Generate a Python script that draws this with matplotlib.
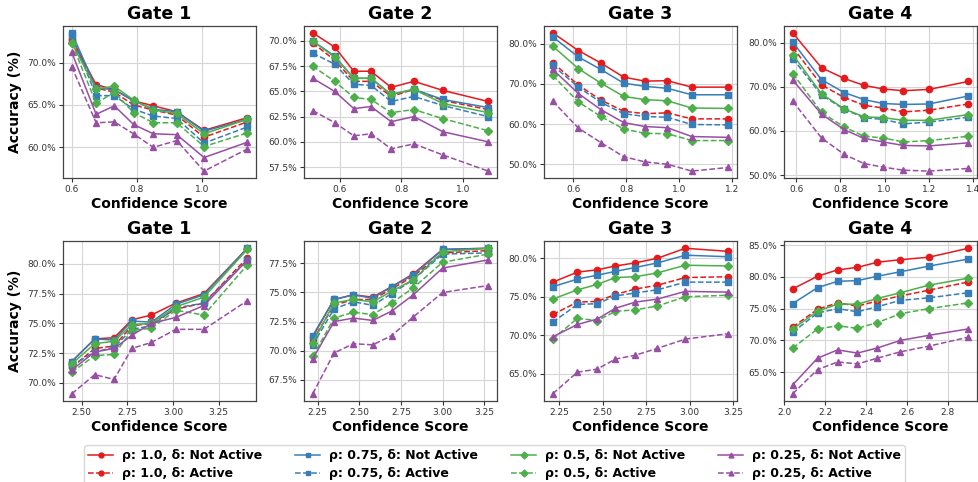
import matplotlib
matplotlib.use("Agg")
import matplotlib.pyplot as plt
from matplotlib.lines import Line2D
from matplotlib.ticker import MultipleLocator, PercentFormatter

################
# data
################
gates = ["Gate 1", "Gate 2", "Gate 3", "Gate 4"]

# series order : rho 1.0 / 0.75 / 0.5 / 0.25, each "Not Active" then "Active"
rhos = ["1.0", "0.75", "0.5", "0.25"]
colors = ["#e41a1c", "#377eb8", "#4daf4a", "#984ea3"]
markers = ["o", "s", "D", "^"]

# top row : confidence score (x) for each gate
top_x = [
    [0.600, 0.675, 0.731, 0.790, 0.851, 0.923, 1.007, 1.140],
    [0.513, 0.584, 0.646, 0.702, 0.767, 0.841, 0.935, 1.082],
    [0.522, 0.619, 0.704, 0.790, 0.870, 0.956, 1.048, 1.186],
    [0.585, 0.715, 0.817, 0.907, 0.994, 1.085, 1.200, 1.378],
]

# top row : accuracy (%) for each gate, 8 series
top_acc = [
    [[72.8, 67.4, 66.8, 65.5, 64.9, 64.2, 62.0, 63.5],
     [72.5, 67.0, 66.5, 65.0, 64.4, 63.8, 61.2, 63.0],
     [73.5, 67.0, 66.8, 65.5, 64.5, 64.2, 61.9, 63.3],
     [73.2, 66.1, 66.1, 64.5, 63.7, 63.4, 60.5, 62.4],
     [72.3, 66.9, 67.2, 65.6, 64.4, 64.0, 61.6, 63.3],
     [72.3, 65.2, 66.5, 64.1, 62.9, 62.9, 60.1, 61.7],
     [71.2, 63.9, 64.9, 62.7, 61.6, 61.5, 58.8, 60.6],
     [69.5, 62.9, 63.0, 61.6, 60.0, 60.8, 57.2, 59.8]],
    [[70.8, 69.4, 67.0, 67.0, 65.4, 66.0, 65.1, 64.0],
     [69.8, 68.1, 66.0, 66.0, 64.5, 65.2, 64.1, 63.2],
     [70.0, 68.5, 66.3, 66.3, 64.7, 65.2, 64.2, 63.4],
     [68.8, 67.7, 65.7, 65.6, 64.0, 64.5, 63.6, 62.5],
     [70.0, 68.4, 66.3, 66.3, 64.7, 65.2, 63.8, 62.9],
     [67.5, 66.0, 64.4, 64.2, 62.9, 63.2, 62.3, 61.1],
     [66.3, 65.0, 63.3, 63.5, 62.0, 62.5, 61.0, 60.0],
     [63.1, 61.9, 60.6, 60.8, 59.3, 59.8, 58.7, 57.1]],
    [[82.7, 78.3, 75.2, 71.7, 70.7, 70.8, 69.2, 69.2],
     [75.3, 69.7, 66.0, 63.2, 62.6, 62.8, 61.3, 61.3],
     [81.7, 76.7, 73.6, 70.2, 69.4, 68.9, 67.3, 67.3],
     [74.6, 69.2, 65.4, 62.6, 61.9, 61.7, 59.9, 59.8],
     [79.4, 73.8, 70.2, 66.9, 66.1, 65.8, 64.0, 63.9],
     [72.1, 65.5, 61.9, 58.8, 57.7, 57.6, 55.9, 55.9],
     [73.6, 67.6, 63.6, 60.4, 59.4, 59.1, 56.9, 56.7],
     [65.7, 59.0, 55.4, 51.9, 50.6, 50.0, 48.3, 49.2]],
    [[82.2, 74.3, 71.9, 70.3, 69.5, 69.1, 69.4, 71.2],
     [78.9, 70.4, 67.6, 65.8, 65.2, 64.3, 64.7, 66.1],
     [80.1, 71.6, 68.7, 67.1, 66.2, 66.0, 66.1, 67.9],
     [76.4, 68.1, 64.9, 63.0, 62.6, 61.6, 62.0, 63.1],
     [77.3, 68.4, 65.0, 63.2, 63.0, 62.4, 62.4, 63.7],
     [73.0, 64.2, 60.9, 58.8, 58.4, 57.5, 57.8, 58.8],
     [71.5, 63.8, 60.3, 58.3, 57.5, 56.7, 56.6, 57.3],
     [66.7, 58.4, 54.7, 52.6, 51.8, 51.1, 50.9, 51.5]],
]

# bottom row : confidence score (x) for each gate
bottom_x = [
    [2.445, 2.571, 2.677, 2.774, 2.881, 3.015, 3.169, 3.406],
    [2.220, 2.348, 2.464, 2.580, 2.694, 2.824, 3.000, 3.274],
    [2.212, 2.354, 2.468, 2.573, 2.687, 2.815, 2.976, 3.223],
    [2.042, 2.163, 2.261, 2.358, 2.455, 2.568, 2.708, 2.899],
]

# bottom row : accuracy (%) for each gate, 8 series
bottom_acc = [
    [[71.8, 73.7, 73.8, 75.3, 75.7, 76.7, 77.5, 81.3],
     [71.3, 72.9, 73.1, 74.8, 75.0, 76.2, 76.7, 80.5],
     [71.8, 73.7, 73.6, 75.2, 75.1, 76.6, 77.4, 81.3],
     [71.5, 72.6, 73.0, 74.5, 74.8, 76.3, 76.7, 80.3],
     [71.6, 73.3, 73.5, 74.9, 75.0, 76.4, 77.2, 81.2],
     [70.9, 72.3, 72.4, 74.4, 74.6, 76.1, 75.7, 79.9],
     [71.1, 72.6, 72.9, 74.0, 75.0, 75.5, 76.5, 80.3],
     [69.1, 70.7, 70.3, 72.9, 73.4, 74.5, 74.5, 76.9]],
    [[71.2, 74.4, 74.8, 74.6, 75.5, 76.6, 78.7, 78.8],
     [70.9, 73.9, 74.4, 74.4, 75.3, 76.4, 78.4, 78.6],
     [71.3, 74.4, 74.8, 74.5, 75.5, 76.5, 78.7, 78.8],
     [70.5, 73.6, 74.2, 73.9, 74.9, 76.1, 78.3, 78.4],
     [70.7, 74.1, 74.4, 74.2, 75.1, 76.1, 78.5, 78.8],
     [69.5, 72.8, 73.3, 73.1, 74.1, 75.4, 77.6, 78.3],
     [69.3, 72.5, 72.8, 72.6, 73.4, 74.8, 77.1, 77.8],
     [66.3, 69.8, 70.6, 70.5, 71.3, 72.9, 75.0, 75.6]],
    [[76.9, 78.2, 78.5, 79.0, 79.4, 80.0, 81.3, 80.9],
     [72.7, 74.3, 74.4, 75.3, 76.0, 76.5, 77.5, 77.6],
     [76.3, 77.3, 77.8, 78.3, 78.8, 79.4, 80.4, 80.2],
     [71.7, 74.0, 74.1, 75.1, 75.5, 75.9, 76.9, 76.9],
     [74.7, 75.9, 76.6, 77.5, 77.6, 78.1, 79.1, 79.0],
     [69.5, 72.2, 71.9, 73.1, 73.3, 73.8, 75.0, 75.2],
     [69.8, 71.4, 72.1, 73.5, 74.3, 74.7, 75.7, 75.6],
     [62.4, 65.2, 65.6, 66.9, 67.4, 68.3, 69.5, 70.2]],
    [[78.1, 80.1, 81.1, 81.5, 82.3, 82.7, 83.1, 84.5],
     [72.1, 74.9, 75.9, 75.4, 76.2, 77.0, 77.9, 79.2],
     [75.8, 78.3, 79.3, 79.4, 80.1, 80.8, 81.7, 82.8],
     [71.3, 74.3, 75.0, 74.5, 75.3, 76.3, 76.7, 77.5],
     [71.8, 74.6, 75.7, 75.7, 76.6, 77.5, 78.7, 79.8],
     [68.8, 71.8, 72.3, 71.9, 72.8, 74.2, 75.0, 75.9],
     [63.0, 67.2, 68.5, 68.0, 68.8, 70.0, 70.8, 71.8],
     [61.6, 65.4, 66.6, 66.3, 67.2, 68.2, 69.1, 70.5]],
]

# tick steps for each panel (x step, y step)
top_steps = [(0.2, 5), (0.2, 2.5), (0.2, 10), (0.2, 10)]
bottom_steps = [(0.25, 2.5), (0.25, 2.5), (0.25, 5), (0.2, 5)]

################
# figure
################
W, H = 979, 482
fig = plt.figure(figsize=(W / 100, H / 100), dpi=100)

lefts = [63, 304, 544, 784]
axw = 193
rows = [(26, 178, top_x, top_acc, top_steps),
        (241, 401, bottom_x, bottom_acc, bottom_steps)]


def draw_panel(ax, x, acc, steps, title, first):
    for i in range(4):
        for j, ls in enumerate(["-", "--"]):
            ax.plot(x, acc[2 * i + j], color=colors[i], ls=ls, marker=markers[i],
                    ms=4.5 if markers[i] != "D" else 4, lw=1.1, zorder=3)
    ax.set_title(title, fontsize=12.5, fontweight="bold", pad=5)
    ax.set_xlabel("Confidence Score", fontsize=10, fontweight="bold", labelpad=2)
    if first:
        ax.set_ylabel("Accuracy (%)", fontsize=10, fontweight="bold")
    ax.xaxis.set_major_locator(MultipleLocator(steps[0]))
    ax.yaxis.set_major_locator(MultipleLocator(steps[1]))
    ax.yaxis.set_major_formatter(PercentFormatter(xmax=100, decimals=1))
    ax.tick_params(labelsize=6.5, length=3, width=0.8, pad=2, colors="#333333")
    ax.grid(True, color="#d5d5d5", lw=0.8, zorder=0)
    for s in ax.spines.values():
        s.set_color("#444444")
        s.set_linewidth(0.9)


for top, bot, xs, accs, steps in rows:
    for k in range(4):
        ax = fig.add_axes([lefts[k] / W, 1 - bot / H, axw / W, (bot - top) / H])
        draw_panel(ax, xs[k], accs[k], steps[k], gates[k], k == 0)

# legend : each rho gives a column (Not Active above, Active below)
handles = []
labels = []
for i in range(4):
    for j, (ls, state) in enumerate([("-", "Not Active"), ("--", "Active")]):
        handles.append(Line2D([], [], color=colors[i], ls=ls, marker=markers[i],
                              ms=3.5, lw=1.1))
        labels.append("\u03c1: " + rhos[i] + ", \u03b4: " + state)

fig.legend(handles, labels, ncol=4, loc="upper center",
           bbox_to_anchor=(494.5 / W, 1 - 439 / H),
           prop={"weight": "bold", "size": 9}, frameon=True,
           handlelength=2.0, columnspacing=2.65, handletextpad=0.7,
           labelspacing=0.4, borderpad=0.3, edgecolor="#cccccc")

plt.savefig("out.png", dpi=100)
